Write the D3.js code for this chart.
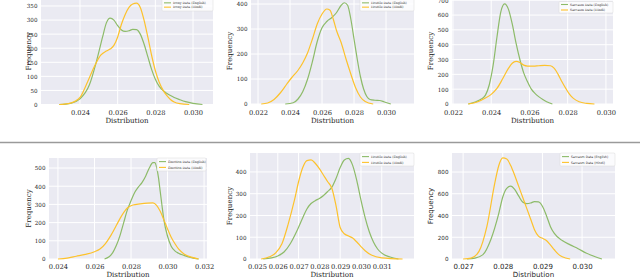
<!DOCTYPE html>
<html>
<head>
<meta charset="utf-8">
<script src="https://cdn.jsdelivr.net/npm/d3@7"></script>
<style>
html,body{margin:0;padding:0;background:#fff;}
svg{display:block;}
</style>
</head>
<body>
<svg id="chart" width="640" height="278"></svg>
<script>
// ---------------- DATA ----------------
const seriesNames = ["English", "Hindi"];

const p1Labels = ["Irony Data (English)", "Irony Data (Hindi)"];
const p1Green = [[0.0229,0],[0.0235,4],[0.0240,20],[0.0245,70],[0.0249,160],[0.0252,240],[0.0254,290],[0.0256,307],[0.0258,300],[0.0260,280],[0.0262,265],[0.0264,260],[0.0266,262],[0.0268,267],[0.0270,266],[0.0272,250],[0.0274,215],[0.0276,170],[0.0278,125],[0.0280,90],[0.0282,65],[0.0284,50],[0.0286,40],[0.0288,32],[0.0290,25],[0.0293,17],[0.0296,10],[0.0300,4],[0.0305,0]];
const p1Yellow = [[0.0229,0],[0.0235,5],[0.0240,25],[0.0244,80],[0.0248,140],[0.0251,175],[0.0254,190],[0.0256,197],[0.0258,210],[0.0260,240],[0.0262,285],[0.0264,320],[0.0266,345],[0.0268,357],[0.0270,360],[0.0272,345],[0.0274,300],[0.0276,240],[0.0278,175],[0.0280,120],[0.0282,80],[0.0284,52],[0.0286,32],[0.0288,18],[0.0290,9],[0.0293,3],[0.0298,0]];
const p1XTicks = [0.024, 0.026, 0.028, 0.030];
const p1YTicks = [0, 50, 100, 150, 200, 250, 300, 350];

const p2Labels = ["Hostile Data (English)", "Hostile Data (Hindi)"];
const p2Green = [[0.0237,0],[0.0242,5],[0.0245,20],[0.0248,50],[0.0251,100],[0.0254,170],[0.0257,250],[0.0260,305],[0.0263,330],[0.0266,345],[0.0269,365],[0.0272,395],[0.0274,405],[0.0276,395],[0.0278,340],[0.0280,260],[0.0282,180],[0.0284,110],[0.0286,60],[0.0288,30],[0.0290,18],[0.0293,15],[0.0296,14],[0.0299,8],[0.0303,0]];
const p2Yellow = [[0.0222,0],[0.0226,4],[0.0230,18],[0.0234,45],[0.0238,80],[0.0241,105],[0.0245,135],[0.0248,165],[0.0251,205],[0.0254,260],[0.0257,320],[0.0260,360],[0.0263,380],[0.0265,375],[0.0267,340],[0.0269,295],[0.0272,245],[0.0275,180],[0.0278,120],[0.0281,65],[0.0284,28],[0.0287,10],[0.0292,0]];
const p2XTicks = [0.022, 0.024, 0.026, 0.028, 0.030];
const p2YTicks = [0, 100, 200, 300, 400];

const p3Labels = ["Sarcasm Data (English)", "Sarcasm Data (Hindi)"];
const p3Green = [[0.0228,0],[0.0232,15],[0.0235,35],[0.0237,60],[0.0239,130],[0.0241,260],[0.0243,450],[0.0245,620],[0.0247,675],[0.0249,640],[0.0251,540],[0.0253,410],[0.0255,300],[0.0257,210],[0.0259,150],[0.0261,100],[0.0263,70],[0.0265,48],[0.0267,30],[0.0269,15],[0.0272,0]];
const p3Yellow = [[0.0228,0],[0.0233,15],[0.0237,40],[0.0240,65],[0.0243,105],[0.0246,170],[0.0249,240],[0.0251,275],[0.0253,287],[0.0255,280],[0.0257,262],[0.0259,256],[0.0262,255],[0.0265,258],[0.0268,260],[0.0271,258],[0.0273,240],[0.0275,200],[0.0277,150],[0.0279,105],[0.0281,65],[0.0283,38],[0.0286,15],[0.0290,4],[0.0294,0]];
const p3XTicks = [0.022, 0.024, 0.026, 0.028, 0.030];
const p3YTicks = [0, 100, 200, 300, 400, 500, 600, 700];

const p4Labels = ["Emotion Data (English)", "Emotion Data (Hindi)"];
const p4Green = [[0.02655,0],[0.0268,12],[0.0270,35],[0.0272,75],[0.0274,130],[0.0276,200],[0.0278,270],[0.0280,320],[0.0282,365],[0.0284,395],[0.0286,420],[0.0288,455],[0.0290,500],[0.0292,530],[0.0293,530],[0.0294,505],[0.0295,450],[0.0296,370],[0.0297,290],[0.0298,215],[0.0300,125],[0.0302,70],[0.0304,45],[0.0306,32],[0.0309,20],[0.0313,8],[0.0317,0]];
const p4Yellow = [[0.0240,0],[0.0245,5],[0.0250,15],[0.0255,25],[0.0260,40],[0.0263,55],[0.0266,85],[0.0269,130],[0.0272,185],[0.0275,240],[0.0278,280],[0.0281,297],[0.0285,303],[0.0289,307],[0.0292,308],[0.0294,295],[0.0296,262],[0.0298,215],[0.0300,165],[0.0302,120],[0.0304,85],[0.0306,55],[0.0309,28],[0.0313,10],[0.0317,0]];
const p4XTicks = [0.024, 0.026, 0.028, 0.030, 0.032];
const p4YTicks = [0, 100, 200, 300, 400, 500];

const p5Labels = ["Hostile Data (English)", "Hostile Data (Hindi)"];
const p5Green = [[0.0253,0],[0.0257,5],[0.0260,14],[0.0263,32],[0.0266,70],[0.0269,125],[0.0272,190],[0.0274,230],[0.0276,255],[0.0278,268],[0.0280,278],[0.0282,292],[0.0284,310],[0.0286,330],[0.0288,370],[0.0290,420],[0.0292,455],[0.0294,462],[0.0296,430],[0.0298,360],[0.0300,270],[0.0302,190],[0.0304,125],[0.0306,78],[0.0308,46],[0.0310,27],[0.0314,9],[0.0318,0]];
const p5Yellow = [[0.0252,0],[0.0256,10],[0.0259,28],[0.0262,70],[0.0265,160],[0.0268,270],[0.0270,355],[0.0272,420],[0.0274,452],[0.0276,455],[0.0278,440],[0.0280,415],[0.0282,385],[0.0284,355],[0.0286,325],[0.0288,245],[0.0290,145],[0.0292,116],[0.0294,106],[0.0296,96],[0.0298,78],[0.0300,57],[0.0302,38],[0.0305,18],[0.0310,5],[0.0320,0]];
const p5XTicks = [0.025, 0.026, 0.027, 0.028, 0.029, 0.030, 0.031];
const p5YTicks = [0, 100, 200, 300, 400];

const p6Labels = ["Sarcasm Data (English)", "Sarcasm Data (Hindi)"];
const p6Green = [[0.0271,0],[0.0273,8],[0.0275,40],[0.0277,180],[0.0279,420],[0.0280,570],[0.0281,650],[0.0282,670],[0.0283,640],[0.0284,580],[0.0285,525],[0.0286,510],[0.0287,515],[0.0288,528],[0.0289,525],[0.0290,485],[0.0291,400],[0.0292,300],[0.0293,235],[0.0295,170],[0.0297,130],[0.0299,95],[0.0301,55],[0.0303,25],[0.0305,0]];
const p6Yellow = [[0.0270,0],[0.0272,8],[0.0274,70],[0.0276,300],[0.0278,700],[0.0279,860],[0.0280,930],[0.0281,920],[0.0282,860],[0.0283,770],[0.0284,670],[0.0285,570],[0.0286,470],[0.0287,370],[0.0288,270],[0.0289,210],[0.0290,190],[0.0291,170],[0.0292,130],[0.0293,85],[0.0294,45],[0.0295,20],[0.0297,0]];
const p6XTicks = [0.027, 0.028, 0.029, 0.030];
const p6YTicks = [0, 200, 400, 600, 800];

// ---------------- LAYOUT ----------------
const SERIF = "'DejaVu Serif', 'Liberation Serif', serif";
const SANS = "'DejaVu Sans', sans-serif";
const colors = {green: "#8dbb69", yellow: "#fdc22c"};

const panels = [
  {green:p1Green, yellow:p1Yellow, xt:p1XTicks, yt:p1YTicks, labels:p1Labels,
   box:[41,213,-2,104.5], xd:[0.02193,0.03106], yd:[0,378.4], font:SERIF,
   xfmt:".3f", ylabX:28, tickY:114.6, labY:122.6, leg:[162,-1,51,12], legRow:4.3},
  {green:p2Green, yellow:p2Yellow, xt:p2XTicks, yt:p2YTicks, labels:p2Labels,
   box:[251,414,-2,104], xd:[0.02156,0.03175], yd:[0,424], font:SERIF,
   xfmt:".3f", ylabX:229, tickY:114.6, labY:122.6, leg:[360,-1,54,12], legRow:4.3},
  {green:p3Green, yellow:p3Yellow, xt:p3XTicks, yt:p3YTicks, labels:p3Labels,
   box:[452,613,-2,104], xd:[0.02195,0.03037], yd:[0,715], font:SERIF,
   xfmt:".3f", ylabX:430, tickY:114.6, labY:122.6, leg:[559,1.5,54,11.5], legRow:5.5},
  {green:p4Green, yellow:p4Yellow, xt:p4XTicks, yt:p4YTicks, labels:p4Labels,
   box:[49,207,158,259], xd:[0.02351,0.03216], yd:[0,555], font:SERIF,
   xfmt:".3f", ylabX:28, tickY:269.4, labY:277.2, leg:[157,158,49,13], legRow:5.8},
  {green:p5Green, yellow:p5Yellow, xt:p5XTicks, yt:p5YTicks, labels:p5Labels,
   box:[250,414,153,259], xd:[0.024664,0.03255], yd:[0,487], font:SERIF,
   xfmt:".3f", ylabX:229, tickY:269.4, labY:277.2, leg:[360,153,54,13], legRow:5.8},
  {green:p6Green, yellow:p6Yellow, xt:p6XTicks, yt:p6YTicks, labels:p6Labels,
   box:[452,615,153,259], xd:[0.02672,0.03083], yd:[0,975], font:SANS,
   xfmt:".3f", ylabX:430, tickY:269.4, labY:277.2, leg:[560,153,55,13], legRow:5.8}
];

const svg = d3.select("#chart");

panels.forEach(p => {
  const [L, R, T, B] = p.box;
  const x = d3.scaleLinear().domain(p.xd).range([L, R]);
  const y = d3.scaleLinear().domain(p.yd).range([B, T]);
  const g = svg.append("g");

  g.append("rect").attr("x", L).attr("y", T).attr("width", R - L).attr("height", B - T)
    .attr("fill", "#eaeaf2");

  // grid
  g.append("g").selectAll("line").data(p.xt).join("line")
    .attr("x1", d => x(d)).attr("x2", d => x(d)).attr("y1", T).attr("y2", B)
    .attr("stroke", "#fff").attr("stroke-width", 1);
  g.append("g").selectAll("line").data(p.yt).join("line")
    .attr("x1", L).attr("x2", R).attr("y1", d => y(d)).attr("y2", d => y(d))
    .attr("stroke", "#fff").attr("stroke-width", 1);

  // axes (labels only)
  const xa = g.append("g").attr("transform", `translate(0,${B})`)
    .call(d3.axisBottom(x).tickValues(p.xt).tickFormat(d3.format(p.xfmt)).tickSize(0).tickPadding(0));
  xa.select(".domain").remove();
  xa.selectAll("text").attr("y", p.tickY - B).attr("dy", null)
    .attr("font-family", p.font).attr("font-size", p.font === SANS ? 7 : 6.7).attr("fill", "#262626");

  const ya = g.append("g").attr("transform", `translate(${L},0)`)
    .call(d3.axisLeft(y).tickValues(p.yt).tickFormat(d3.format("d")).tickSize(0).tickPadding(3.5));
  ya.select(".domain").remove();
  ya.selectAll("text").attr("font-family", p.font).attr("font-size", 5.6)
    .attr("fill", "#262626").attr("dy", "0.34em");

  // axis titles
  g.append("text").attr("x", (L + R) / 2).attr("y", p.labY).attr("text-anchor", "middle")
    .attr("font-family", p.font).attr("font-size", 7.1).attr("fill", "#262626").text("Distribution");
  g.append("text").attr("transform", `translate(${p.ylabX},${(T + B) / 2}) rotate(-90)`)
    .attr("text-anchor", "middle").attr("dy", "0.35em")
    .attr("font-family", p.font).attr("font-size", 7.1).attr("fill", "#262626").text("Frequency");

  // curves
  const line = d3.line().x(d => x(d[0])).y(d => y(d[1])).curve(d3.curveMonotoneX);
  g.append("path").datum(p.green).attr("d", line).attr("fill", "none")
    .attr("stroke", colors.green).attr("stroke-width", 1.2);
  g.append("path").datum(p.yellow).attr("d", line).attr("fill", "none")
    .attr("stroke", colors.yellow).attr("stroke-width", 1.2);

  // legend
  const [lx, ly, lw, lh] = p.leg;
  const lg = g.append("g");
  lg.append("rect").attr("x", lx).attr("y", ly).attr("width", lw).attr("height", lh)
    .attr("rx", 1).attr("fill", "rgba(255,255,255,0.8)").attr("stroke", "#d8d8d8").attr("stroke-width", 0.5);
  [colors.green, colors.yellow].forEach((c, i) => {
    const cy = ly + lh / 2 + (i === 0 ? -p.legRow / 2 : p.legRow / 2);
    lg.append("line").attr("x1", lx + 2).attr("x2", lx + 9).attr("y1", cy).attr("y2", cy)
      .attr("stroke", c).attr("stroke-width", 1.1);
    lg.append("text").attr("x", lx + 11).attr("y", cy).attr("dy", "0.35em")
      .attr("font-family", p.font).attr("font-size", 3.2).attr("fill", "#333").text(p.labels[i]);
  });
});

// separator between rows
svg.append("line").attr("x1", 0).attr("x2", 640).attr("y1", 142.5).attr("y2", 142.5)
  .attr("stroke", "#9a9a9a").attr("stroke-width", 1.5);
</script>
</body>
</html>
